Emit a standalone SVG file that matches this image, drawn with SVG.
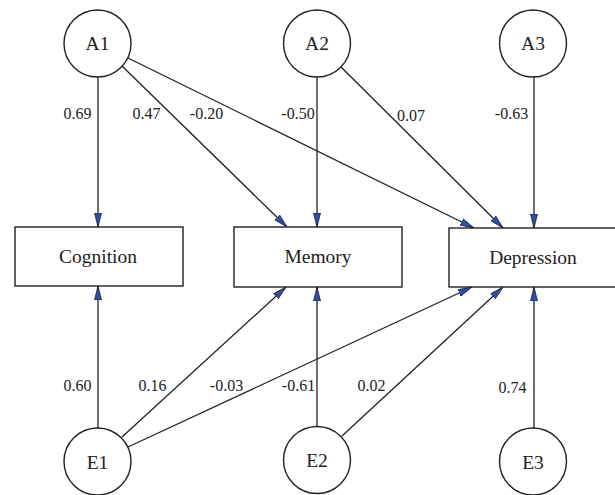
<svg xmlns="http://www.w3.org/2000/svg" width="615" height="495" viewBox="0 0 615 495">
<style>
.n{fill:#fff;stroke:#222;stroke-width:1.4}
.t{font-family:'Liberation Serif','DejaVu Serif',serif;font-size:19.5px;fill:#222;text-anchor:middle}
.l{font-family:'Liberation Serif','DejaVu Serif',serif;font-size:16px;fill:#222;text-anchor:middle}
.e{stroke:#222;stroke-width:1.3;fill:none;marker-end:url(#ah)}
</style>
<defs>
<marker id="ah" markerUnits="userSpaceOnUse" viewBox="0 0 14 8" refX="14" refY="4" markerWidth="14" markerHeight="8" orient="auto">
<path d="M0,0.5 L14,4 L0,7.5 z" fill="#2f4f9f" stroke="#1a1a3a" stroke-width="0.8"/>
</marker>
</defs>
<rect width="615" height="495" fill="#fff"/>
<g id="connectors">
<line class="e" x1="98" y1="77" x2="98" y2="227"/>
<line class="e" x1="122" y1="66" x2="287" y2="227"/>
<line class="e" x1="128" y1="58" x2="474" y2="228"/>
<line class="e" x1="317" y1="77" x2="317" y2="227"/>
<line class="e" x1="341" y1="67" x2="503" y2="228"/>
<line class="e" x1="534" y1="77" x2="534" y2="228"/>
<line class="e" x1="98" y1="428" x2="98" y2="286"/>
<line class="e" x1="122" y1="437" x2="286" y2="287"/>
<line class="e" x1="128" y1="447" x2="472" y2="287"/>
<line class="e" x1="317" y1="427" x2="317" y2="287"/>
<line class="e" x1="342" y1="436" x2="503" y2="287"/>
<line class="e" x1="534" y1="428" x2="534" y2="287"/>
<text class="l" x="77.5" y="118.5">0.69</text>
<text class="l" x="146.5" y="118.5">0.47</text>
<text class="l" x="206.5" y="118.5">-0.20</text>
<text class="l" x="298" y="118.5">-0.50</text>
<text class="l" x="411" y="120.5">0.07</text>
<text class="l" x="511.5" y="118.5">-0.63</text>
<text class="l" x="77.5" y="390.5">0.60</text>
<text class="l" x="152.5" y="390.5">0.16</text>
<text class="l" x="226.5" y="390.5">-0.03</text>
<text class="l" x="298.5" y="390.5">-0.61</text>
<text class="l" x="371.5" y="390.5">0.02</text>
<text class="l" x="512.5" y="392.5">0.74</text>
</g>
<g id="A1"><circle class="n" cx="97.5" cy="43.5" r="33.5"/><text class="t" x="97.5" y="50">A1</text></g>
<g id="A2"><circle class="n" cx="317" cy="43.5" r="33.5"/><text class="t" x="317" y="50">A2</text></g>
<g id="A3"><circle class="n" cx="533" cy="43.5" r="33.5"/><text class="t" x="533" y="50">A3</text></g>
<g id="Cognition"><rect class="n" x="15" y="227" width="168" height="59"/><text class="t" x="98" y="263">Cognition</text></g>
<g id="Memory"><rect class="n" x="234" y="227" width="168" height="60"/><text class="t" x="318" y="263">Memory</text></g>
<g id="Depression"><rect class="n" x="449" y="228" width="170" height="59"/><text class="t" x="533" y="264">Depression</text></g>
<g id="E1"><circle class="n" cx="97.5" cy="461.5" r="33.5"/><text class="t" x="97.5" y="469">E1</text></g>
<g id="E2"><circle class="n" cx="317" cy="460" r="33.5"/><text class="t" x="317" y="467">E2</text></g>
<g id="E3"><circle class="n" cx="533" cy="461.5" r="33.5"/><text class="t" x="533" y="469">E3</text></g>
</svg>
